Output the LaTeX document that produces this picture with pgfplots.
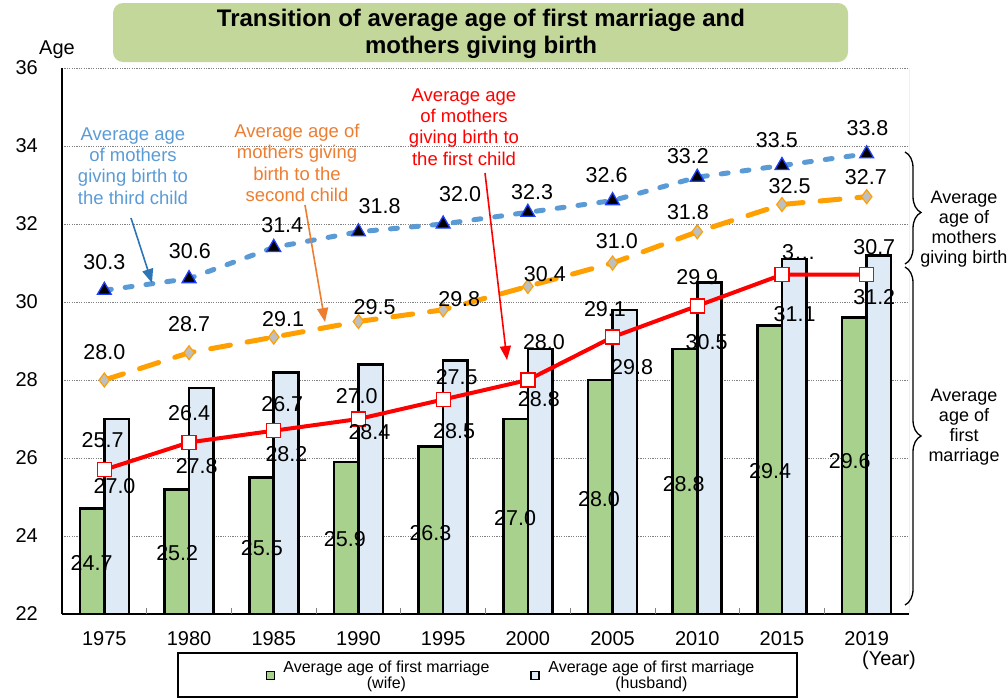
\documentclass[border=0pt]{standalone}
\usepackage{pgfplots}
\pgfplotsset{compat=1.18}
\usepackage{pgfplotstable}
\usepackage{fontspec}
\setmainfont{Liberation Sans}
\usetikzlibrary{arrows.meta,decorations.pathreplacing}

\definecolor{wifeC}{HTML}{A9D18E}
\definecolor{husbC}{HTML}{DEEBF7}
\definecolor{firstC}{HTML}{FF0000}
\definecolor{secondC}{HTML}{FFA000}
\definecolor{thirdC}{HTML}{5B9BD5}
\definecolor{thirdArrow}{HTML}{2E75B6}
\definecolor{secondText}{HTML}{ED7D31}
\definecolor{titleBG}{HTML}{C4D79B}
\definecolor{triEdge}{HTML}{1F3FFF}
\definecolor{diaFill}{HTML}{BFBFBF}

\newcommand{\tickfont}{\fontsize{20}{24}\selectfont}
\newcommand{\labfont}{\fontsize{21.5}{24}\selectfont}
\newcommand{\annfont}{\fontsize{18.5}{21.3}\selectfont}
\newcommand{\brfont}{\fontsize{18}{20}\selectfont}
\newcommand{\legfont}{\fontsize{16}{16}\selectfont}

\pgfplotstableread{
x wife husband first second third
0 24.7 27.0 25.7 28.0 30.3
1 25.2 27.8 26.4 28.7 30.6
2 25.5 28.2 26.7 29.1 31.4
3 25.9 28.4 27.0 29.5 31.8
4 26.3 28.5 27.5 29.8 32.0
5 27.0 28.8 28.0 30.4 32.3
6 28.0 29.8 29.1 31.0 32.6
7 28.8 30.5 29.9 31.8 33.2
8 29.4 31.1 30.7 32.5 33.5
9 29.6 31.2 30.7 32.7 33.8
}\data

\pgfplotstableread{
x y t
-0.15 23.31 24.7
0.86 23.56 25.2
1.86 23.69 25.5
2.84 23.92 25.9
3.85 24.08 26.3
4.85 24.46 27.0
5.84 24.95 28.0
6.84 25.33 28.8
7.86 25.67 29.4
8.80 25.92 29.6
}\wifeL

\pgfplotstableread{
x y t
0.12 25.28 27.0
1.09 25.79 27.8
2.15 26.10 28.2
3.13 26.67 28.4
4.13 26.69 28.5
5.13 27.51 28.8
6.23 28.33 29.8
7.11 28.97 30.5
8.15 29.69 31.1
9.09 30.13 31.2
}\husbL

\pgfplotstableread{
x y t
-0.02 26.46 25.7
1.00 27.15 26.4
2.10 27.38 26.7
2.98 27.59 27.0
4.16 28.08 27.5
5.19 28.97 28.0
5.91 29.82 29.1
7.00 30.64 29.9
8.20 31.28 3…
9.09 31.41 30.7
}\firstL

\pgfplotstableread{
x y t
0.00 28.72 28.0
1.00 29.44 28.7
2.11 29.56 29.1
3.19 29.87 29.5
4.19 30.08 29.8
5.20 30.72 30.4
6.05 31.56 31.0
6.89 32.31 31.8
8.09 32.97 32.5
8.99 33.21 32.7
}\secondL

\pgfplotstableread{
x y t
0.00 31.03 30.3
1.01 31.31 30.6
2.10 31.97 31.4
3.25 32.46 31.8
4.20 32.77 32.0
5.05 32.82 32.3
5.93 33.26 32.6
6.89 33.74 33.2
7.94 34.15 33.5
9.01 34.46 33.8
}\thirdL

\pgfplotsset{
  vlabels/.style={forget plot, draw=none, mark=none, nodes near coords,
    point meta=explicit symbolic,
    nodes near coords align={anchor=center},
    every node near coord/.append style={anchor=center, font=\labfont, inner sep=0pt, text=black}},
}

\begin{document}
\begin{tikzpicture}
\useasboundingbox (0pt,-699pt) rectangle (1008pt,0pt);
\begin{scope}[x=1pt,y=-1pt]
\fill[titleBG, rounded corners=10pt] (113,3) rectangle (848,62);
\node[font=\bfseries\fontsize{24}{27}\selectfont, align=center] at (481,34) {Transition of average age of first marriage and\\mothers giving birth};
\end{scope}
\begin{axis}[
  at={(62pt,-614pt)}, anchor=south west, scale only axis,
  width=847pt, height=546pt,
  xmin=-0.5, xmax=9.5, ymin=22, ymax=36,
  axis x line=bottom, axis y line=left,
  axis line style={-, black, line width=1.4pt},
  xtick={0,...,9},
  xticklabels={1975,1980,1985,1990,1995,2000,2005,2010,2015,2019},
  ytick={22,24,...,36},
  major tick length=0pt,
  extra x ticks={0.5,1.5,...,8.5},
  extra x tick labels={},
  extra x tick style={major tick length=6pt, tick align=inside, tick style={gray, line width=0.8pt}, grid=none},
  ymajorgrids,
  major grid style={gray, line width=0.8pt, dash pattern=on 1.2pt off 1.2pt},
  tick label style={font=\tickfont},
  /pgf/number format/assume math mode=true,
  yticklabel style={anchor=east, inner sep=0pt, xshift=-24pt},
  xticklabel style={anchor=north, inner sep=0pt, yshift=-17pt},
  legend style={at={(0.5295,-0.1117)}, anchor=center, draw=none, fill=none,
    legend columns=2, font=\legfont, nodes={align=center, inner sep=1pt},
    /tikz/every even column/.append style={column sep=40pt}},
]
\addplot[ybar, bar width=24.5pt, bar shift=-12.25pt, fill=wifeC, draw=black, line width=2.6pt,
  legend image code/.code={\draw[fill=wifeC, draw=black, line width=1.8pt] (0pt,-4.5pt) rectangle (8pt,3.5pt); \path[draw=none, fill=none] (0pt,0pt) -- (16pt,0pt);}]
  table[x=x, y=wife] {\data};
\addlegendentry{Average age of first marriage\\(wife)}
\addplot[ybar, bar width=24.5pt, bar shift=12.25pt, fill=husbC, draw=black, line width=2.6pt,
  legend image code/.code={\draw[fill=husbC, draw=black, line width=1.8pt] (0pt,-4.5pt) rectangle (8pt,3.5pt); \path[draw=none, fill=none] (0pt,0pt) -- (16pt,0pt);}]
  table[x=x, y=husband] {\data};
\addlegendentry{Average age of first marriage\\(husband)}

\addplot[forget plot, color=firstC, line width=4pt, mark=square*, mark size=7pt,
  mark options={solid, fill=white, draw=firstC, line width=1.3pt}]
  table[x=x, y=first] {\data};
\addplot[forget plot, color=secondC, line width=5pt, line cap=round, dash pattern=on 20pt off 17pt,
  mark=diamond*, mark size=7pt,
  mark options={solid, fill=diaFill, draw=secondC, line width=1.2pt, line cap=butt}]
  table[x=x, y=second] {\data};
\addplot[forget plot, color=thirdC, line width=5pt, line cap=round, dash pattern=on 7pt off 14pt,
  mark=triangle*, mark size=8pt,
  mark options={solid, fill=black, draw=triEdge, line width=1.3pt, line cap=butt}]
  table[x=x, y=third] {\data};

\addplot[vlabels] table[x=x, y=y, meta=t] {\wifeL};
\addplot[vlabels] table[x=x, y=y, meta=t] {\husbL};
\addplot[vlabels] table[x=x, y=y, meta=t] {\firstL};
\addplot[vlabels] table[x=x, y=y, meta=t] {\secondL};
\addplot[vlabels] table[x=x, y=y, meta=t] {\thirdL};

\draw[gray, line width=1pt] (rel axis cs:1,0) -- (rel axis cs:1,1);
\end{axis}
\begin{scope}[x=1pt,y=-1pt]
\node[align=center, text=thirdC, font=\annfont] at (133,166) {Average age\\of mothers\\giving birth to\\the third child};
\draw[thirdArrow, line width=1.6pt, -{Triangle[length=14pt,width=11pt]}] (131,218) -- (152,283);
\node[align=center, text=secondText, font=\annfont] at (297,163) {Average age of\\mothers giving\\birth to the\\second child};
\draw[secondText, line width=1.6pt, -{Triangle[length=14pt,width=11pt]}] (305,205) -- (325,322);
\node[align=center, text=firstC, font=\annfont] at (464,127) {Average age\\of mothers\\giving birth to\\the first child};
\draw[firstC, line width=1.6pt, -{Triangle[length=14pt,width=11pt]}] (485,173) -- (507,360);
\draw[line width=1.3pt, decorate, decoration={brace, amplitude=16pt, aspect=0.54}] (905,152) -- (905,264);
\draw[line width=1.3pt, decorate, decoration={brace, amplitude=16pt, aspect=0.5}] (905,267) -- (905,605);
\node[align=center, font=\brfont] at (964,229) {Average\\age of\\mothers\\giving birth};
\node[align=center, font=\brfont] at (964,427) {Average\\age of\\first\\marriage};
\node[font=\tickfont] at (57,50) {Age};
\node[font=\tickfont] at (889,660) {(Year)};
\draw[line width=1.6pt] (178,653) rectangle (797,697);
\end{scope}
\end{tikzpicture}
\end{document}
